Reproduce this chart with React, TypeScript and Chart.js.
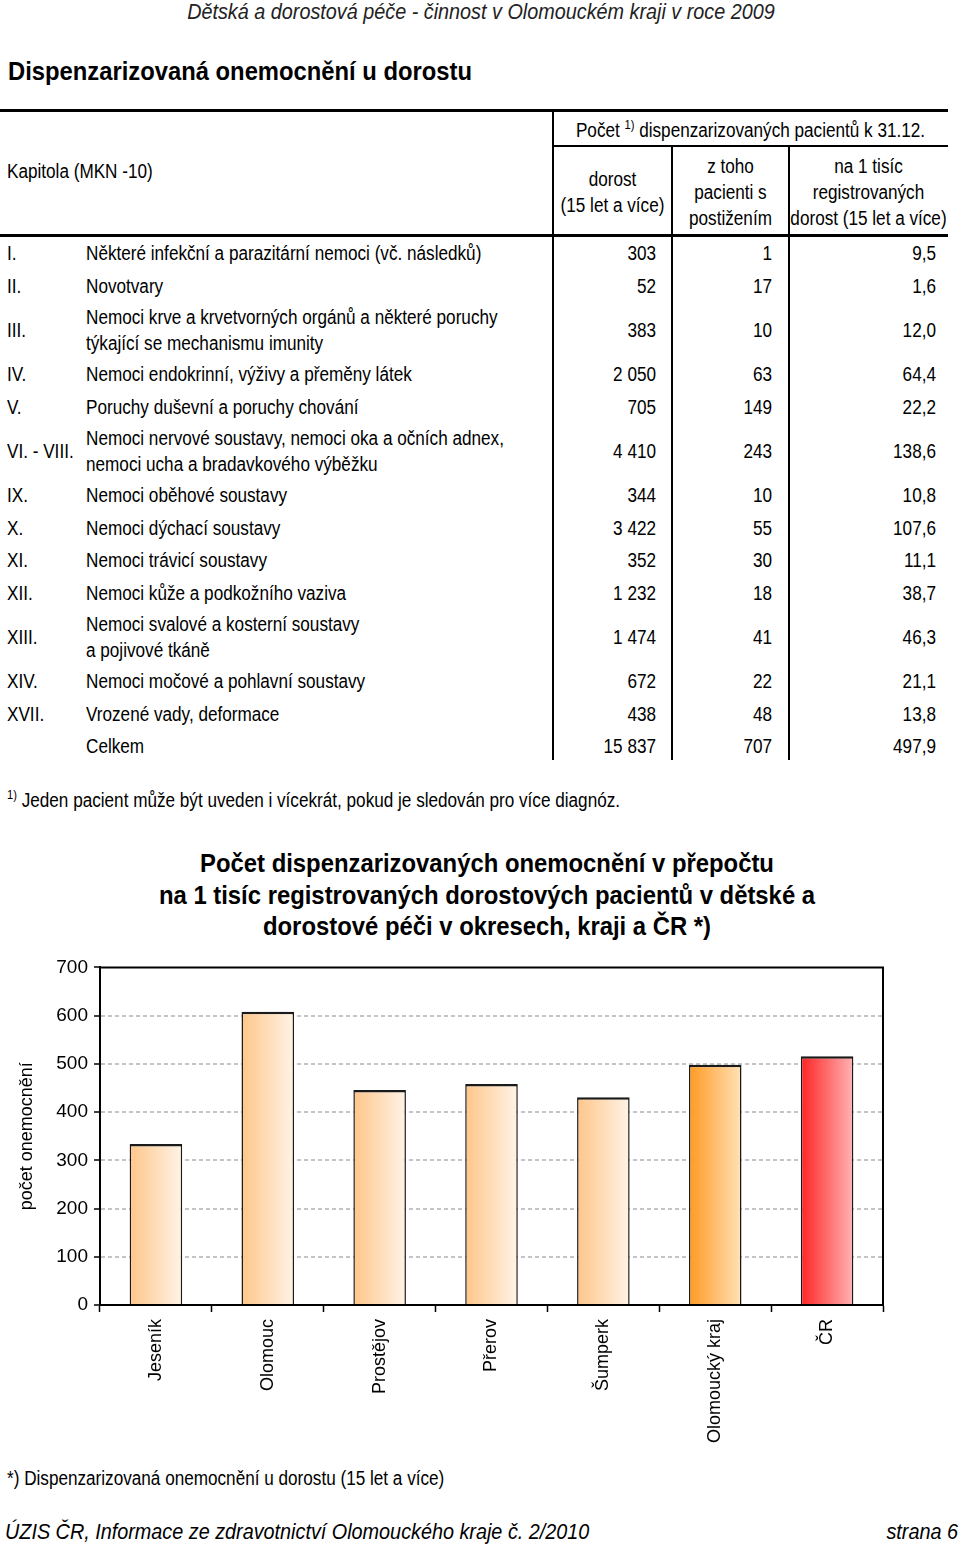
import React, { useEffect, useRef } from "react";
import { Chart, registerables } from "chart.js";
Chart.register(...registerables);

// ---------- data ----------
const chapters = ["I.", "II.", "III.", "IV.", "V.", "VI. - VIII.", "IX.", "X.", "XI.", "XII.", "XIII.", "XIV.", "XVII.", ""];
const chapterNames = [
  "Některé infekční a parazitární nemoci (vč. následků)",
  "Novotvary",
  "Nemoci krve a krvetvorných orgánů a některé poruchy\ntýkající se mechanismu imunity",
  "Nemoci endokrinní, výživy a přeměny látek",
  "Poruchy duševní a poruchy chování",
  "Nemoci nervové soustavy, nemoci oka a očních adnex,\nnemoci ucha a bradavkového výběžku",
  "Nemoci oběhové soustavy",
  "Nemoci dýchací soustavy",
  "Nemoci trávicí soustavy",
  "Nemoci kůže a podkožního vaziva",
  "Nemoci svalové a kosterní soustavy\na pojivové tkáně",
  "Nemoci močové a pohlavní soustavy",
  "Vrozené vady, deformace",
  "Celkem",
];
const patients = [303, 52, 383, 2050, 705, 4410, 344, 3422, 352, 1232, 1474, 672, 438, 15837];
const disabled = [1, 17, 10, 63, 149, 243, 10, 55, 30, 18, 41, 22, 48, 707];
const perThousand = [9.5, 1.6, 12.0, 64.4, 22.2, 138.6, 10.8, 107.6, 11.1, 38.7, 46.3, 21.1, 13.8, 497.9];

const regions = ["Jeseník", "Olomouc", "Prostějov", "Přerov", "Šumperk", "Olomoucký kraj", "ČR"];
const rates = [334, 608, 446, 458, 431, 497.9, 516];
const yTicks = [0, 100, 200, 300, 400, 500, 600, 700];

// ---------- styles ----------
const FA = '"Liberation Sans", Arial, sans-serif';
const S = 0.857; // horizontal condensing to mimic Arial Narrow

const fmtInt = (v: number) => String(v).replace(/\B(?=(\d{3})+(?!\d))/g, " ");
const fmtDec = (v: number) => v.toFixed(1).replace(".", ",");

type TProps = {
  left: number;
  top: number;
  width?: number;
  height?: number;
  lh?: number;
  align?: "left" | "right" | "center";
  size?: number;
  scale?: number;
  bold?: boolean;
  italic?: boolean;
  color?: string;
  children: React.ReactNode;
};
function T({ left, top, width, height, lh, align = "left", size = 20, scale = S, bold, italic, color = "#000", children }: TProps) {
  const st: React.CSSProperties = {
    position: "absolute",
    left,
    top,
    fontFamily: FA,
    fontSize: size,
    fontWeight: bold ? "bold" : "normal",
    fontStyle: italic ? "italic" : "normal",
    color,
    whiteSpace: "nowrap",
    textAlign: align,
    transform: `scaleX(${scale})`,
    transformOrigin: "0 0",
  };
  if (width !== undefined) st.width = width / scale;
  if (height !== undefined) st.height = height;
  if (lh !== undefined) st.lineHeight = lh + "px";
  return <div style={st}>{children}</div>;
}

const line = (left: number, top: number, width: number, height: number, key?: string) => (
  <div key={key} style={{ position: "absolute", left, top, width, height, background: "#000" }} />
);

const barGradients = [
  ["#ffc68a", "#fff3e6"],
  ["#ffc68a", "#fff3e6"],
  ["#ffc68a", "#fff3e6"],
  ["#ffc68a", "#fff3e6"],
  ["#ffc68a", "#fff3e6"],
  ["#ff9a22", "#ffe2b8"],
  ["#ff2424", "#ffb4b4"],
];

const framePlugin = {
  id: "frame",
  afterDraw(chart: any) {
    const { ctx, chartArea: a } = chart;
    ctx.save();
    ctx.strokeStyle = "#000";
    ctx.lineWidth = 2;
    ctx.beginPath();
    ctx.moveTo(a.left, a.top);
    ctx.lineTo(a.right, a.top);
    ctx.lineTo(a.right, a.bottom);
    ctx.stroke();
    ctx.restore();
  },
};

function BarChart() {
  const ref = useRef<HTMLCanvasElement>(null);
  useEffect(() => {
    const BAR_PCT = 0.47;
    const chart = new Chart(ref.current!, {
      type: "bar",
      data: {
        labels: regions,
        datasets: [
          {
            data: rates,
            backgroundColor: (c: any) => {
              const ch = c.chart;
              const xs = ch.scales?.x;
              const g = barGradients[c.dataIndex] || barGradients[0];
              if (!xs || !ch.chartArea) return g[0];
              const center = xs.getPixelForValue(c.dataIndex);
              const w = (xs.width / regions.length) * BAR_PCT;
              const grad = ch.ctx.createLinearGradient(center - w / 2, 0, center + w / 2, 0);
              grad.addColorStop(0, g[0]);
              grad.addColorStop(1, g[1]);
              return grad;
            },
            borderColor: "#1a1a1a",
            borderWidth: { top: 2.5, left: 1.5, right: 1.5, bottom: 0 },
            borderSkipped: false,
            barPercentage: BAR_PCT,
            categoryPercentage: 1,
          } as any,
        ],
      },
      options: {
        responsive: false,
        maintainAspectRatio: false,
        animation: false,
        layout: { padding: { top: 15, right: 77, bottom: 0, left: 0 } },
        plugins: { legend: { display: false }, tooltip: { enabled: false } },
        scales: {
          x: {
            grid: { offset: true, drawOnChartArea: false, tickLength: 7, tickColor: "#000", tickWidth: 1.5 },
            border: { color: "#000", width: 2 },
            ticks: {
              minRotation: 90,
              maxRotation: 90,
              padding: 7,
              color: "#000",
              font: { family: FA, size: 18 },
            },
            afterFit: (s: any) => {
              s.height = 145;
            },
          },
          y: {
            min: 0,
            max: 700,
            afterBuildTicks: (s: any) => {
              s.ticks = yTicks.map((v) => ({ value: v }));
            },
            ticks: { padding: 6, color: "#000", font: { family: FA, size: 19 } },
            grid: {
              color: (c: any) =>
                c.tick && (c.tick.value === 0 || c.tick.value === 700) ? "rgba(0,0,0,0)" : "#c4c4c4",
              lineWidth: 2,
              tickColor: "#000",
              tickLength: 6,
              tickWidth: 1.5,
            },
            border: { dash: [4, 3], color: "#000", width: 2 },
            title: {
              display: true,
              text: "počet onemocnění",
              color: "#000",
              font: { family: FA, size: 18 },
              padding: { top: 16, bottom: 0 },
            },
            afterFit: (s: any) => {
              s.width = 100;
            },
          },
        },
      } as any,
      plugins: [framePlugin],
    });
    return () => chart.destroy();
  }, []);
  return <canvas ref={ref} width={960} height={500} style={{ display: "block", width: 960, height: 500 }} />;
}

export default function App() {
  const rows: React.ReactNode[] = [];
  let y = 237;
  chapterNames.forEach((name, i) => {
    const lines = name.split("\n");
    const h = lines.length === 1 ? 32.5 : 56;
    const lh = 26;
    rows.push(
      <React.Fragment key={i}>
        <T left={7} top={y} height={h} lh={h}>{chapters[i]}</T>
        <T left={86} top={y + (h - lh * lines.length) / 2} lh={lh}>
          {lines.map((l, k) => (
            <div key={k}>{l}</div>
          ))}
        </T>
        <T left={553} width={103} top={y} height={h} lh={h} align="right">{fmtInt(patients[i])}</T>
        <T left={672} width={100} top={y} height={h} lh={h} align="right">{fmtInt(disabled[i])}</T>
        <T left={789} width={147} top={y} height={h} lh={h} align="right">{fmtDec(perThousand[i])}</T>
      </React.Fragment>
    );
    y += h;
  });

  const sup: React.CSSProperties = { fontSize: 13, verticalAlign: "top", position: "relative", top: -5 };

  return (
    <div style={{ position: "absolute", left: 0, top: 0, width: 960, height: 1547, background: "#fff", overflow: "hidden" }}>
      {/* page header */}
      <T left={0} width={962} top={-1} lh={26} align="center" italic size={22} scale={0.9} color="#222">
        Dětská a dorostová péče - činnost v Olomouckém kraji v roce 2009
      </T>
      <T left={8} top={55} lh={32} bold size={26} scale={0.915}>
        Dispenzarizovaná onemocnění u dorostu
      </T>

      {/* table lines */}
      {line(0, 109, 948, 3)}
      {line(553, 145, 395, 2)}
      {line(0, 234, 948, 3)}
      {line(552, 110, 2, 650)}
      {line(671, 146, 2, 614)}
      {line(788, 146, 2, 614)}

      {/* table header */}
      <T left={7} top={158} lh={26}>Kapitola (MKN -10)</T>
      <T left={553} width={395} top={117} lh={26} align="center">
        Počet <span style={sup}>1)</span> dispenzarizovaných pacientů k 31.12.
      </T>
      <T left={553} width={119} top={166} lh={26} align="center">
        <div>dorost</div>
        <div>(15 let a více)</div>
      </T>
      <T left={672} width={117} top={153} lh={26} align="center">
        <div>z toho</div>
        <div>pacienti s</div>
        <div>postižením</div>
      </T>
      <T left={789} width={159} top={153} lh={26} align="center">
        <div>na 1 tisíc</div>
        <div>registrovaných</div>
        <div>dorost (15 let a více)</div>
      </T>

      {rows}

      {/* footnote */}
      <T left={7} top={787} lh={26}>
        <span style={sup}>1)</span> Jeden pacient může být uveden i vícekrát, pokud je sledován pro více diagnóz.
      </T>

      {/* chart title */}
      <T left={0} width={974} top={848} lh={31.5} align="center" bold size={26.5} scale={0.9}>
        <div>Počet dispenzarizovaných onemocnění v přepočtu</div>
        <div>na 1 tisíc registrovaných dorostových pacientů v dětské a</div>
        <div>dorostové péči v okresech, kraji a ČR *)</div>
      </T>

      {/* chart */}
      <div style={{ position: "absolute", left: 0, top: 950, width: 960, height: 500 }}>
        <BarChart />
      </div>

      {/* chart footnote */}
      <T left={7} top={1465} lh={26}>*) Dispenzarizovaná onemocnění u dorostu (15 let a více)</T>

      {/* page footer */}
      <T left={5} top={1519} lh={26} italic size={22} scale={0.9}>
        ÚZIS ČR, Informace ze zdravotnictví Olomouckého kraje č. 2/2010
      </T>
      <T left={760} width={198} top={1519} lh={26} italic size={22} scale={0.9} align="right">
        strana 6
      </T>
    </div>
  );
}
